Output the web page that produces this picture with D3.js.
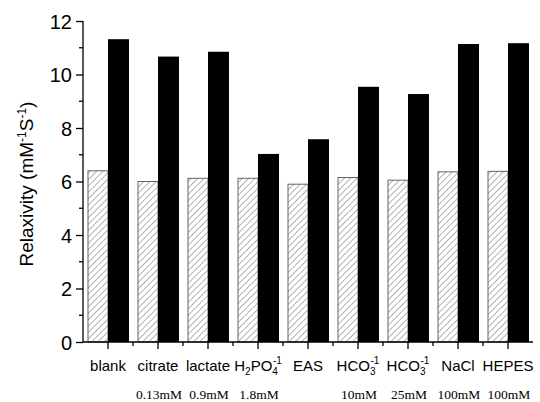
<!DOCTYPE html>
<html>
<head>
<meta charset="utf-8">
<script src="https://cdn.jsdelivr.net/npm/d3@7"></script>
<style>
  body { margin: 0; background: #fff; }
  svg text { font-family: "Liberation Sans", Arial, sans-serif; }
</style>
</head>
<body>
<div id="chart"></div>
<script>
// Categories: main label parts, sub/superscripts, concentration
const categories = ["blank", "citrate", "lactate", "H2PO4", "EAS", "HCO3a", "HCO3b", "NaCl", "HEPES"];
const concentrations = ["", "0.13mM", "0.9mM", "1.8mM", "", "10mM", "25mM", "100mM", "100mM"];
const hatchedValues = [6.4, 6.0, 6.12, 6.12, 5.9, 6.15, 6.05, 6.36, 6.38];
const solidValues = [11.32, 10.67, 10.85, 7.03, 7.58, 9.54, 9.27, 11.14, 11.17];
const yTicks = [0, 2, 4, 6, 8, 10, 12];

const width = 540, height = 402;
const svg = d3.select("#chart").append("svg")
  .attr("width", width).attr("height", height);

// Hatch pattern for the first series
const defs = svg.append("defs");
defs.append("pattern")
  .attr("id", "hatch")
  .attr("patternUnits", "userSpaceOnUse")
  .attr("width", 4.5).attr("height", 4.5)
  .attr("patternTransform", "rotate(45)")
  .append("line")
  .attr("x1", 0).attr("y1", 0).attr("x2", 0).attr("y2", 4.5)
  .attr("stroke", "#666").attr("stroke-width", 1);

const x = d3.scaleBand().domain(categories).range([83, 533]);
const y = d3.scaleLinear().domain([0, 12]).range([342, 21]);

// Bars: hatched left of the category centre, solid right of it
const g = svg.append("g");
const center = (d) => x(d) + x.bandwidth() / 2;

g.selectAll(".hatched")
  .data(categories)
  .enter()
  .append("rect")
  .attr("class", "hatched")
  .attr("x", (d) => center(d) - 20)
  .attr("width", 20)
  .attr("y", (d, i) => y(hatchedValues[i]))
  .attr("height", (d, i) => y(0) - y(hatchedValues[i]))
  .attr("fill", "url(#hatch)")
  .attr("stroke", "#555")
  .attr("stroke-width", 0.9);

g.selectAll(".solid")
  .data(categories)
  .enter()
  .append("rect")
  .attr("class", "solid")
  .attr("x", (d) => center(d))
  .attr("width", 21)
  .attr("y", (d, i) => y(solidValues[i]))
  .attr("height", (d, i) => y(0) - y(solidValues[i]))
  .attr("fill", "#000");

// Y axis with minor ticks
const yAxis = svg.append("g").attr("transform", "translate(83,0)");
yAxis.call(d3.axisLeft(y).tickValues(yTicks).tickSize(7).tickPadding(4))
  .call((s) => s.select(".domain").attr("stroke-width", 1.3).attr("d", `M0,${y(12)}V${y(0)}`));
yAxis.selectAll(".tick line").attr("stroke-width", 1.3);
yAxis.selectAll(".tick text")
  .attr("font-size", 20)
  .attr("font-family", "Liberation Sans, Arial, sans-serif")
  .attr("dy", "0.36em");
yAxis.selectAll(".minor")
  .data(d3.range(1, 12, 2))
  .enter()
  .append("line")
  .attr("class", "minor")
  .attr("x1", 0).attr("x2", -4)
  .attr("y1", (d) => y(d)).attr("y2", (d) => y(d))
  .attr("stroke", "#000").attr("stroke-width", 1.3);

// X axis: major ticks at centres, minor ticks between
const xAxis = svg.append("g").attr("transform", `translate(0,${y(0)})`);
xAxis.append("line")
  .attr("x1", 83).attr("x2", 533)
  .attr("stroke", "#000").attr("stroke-width", 1.3);
xAxis.selectAll(".major")
  .data(categories)
  .enter()
  .append("line")
  .attr("x1", (d) => center(d)).attr("x2", (d) => center(d))
  .attr("y1", 0).attr("y2", 7)
  .attr("stroke", "#000").attr("stroke-width", 1.3);
xAxis.selectAll(".minorx")
  .data(categories.slice(0, -1))
  .enter()
  .append("line")
  .attr("x1", (d) => x(d) + x.step()).attr("x2", (d) => x(d) + x.step())
  .attr("y1", 0).attr("y2", 4)
  .attr("stroke", "#000").attr("stroke-width", 1.3);

// Category labels (with chemical sub/superscripts)
const labelParts = {
  blank: [["blank"]],
  citrate: [["citrate"]],
  lactate: [["lactate"]],
  H2PO4: [["H"], ["2", "sub"], ["PO"], ["4", "sub"], ["-1", "sup"]],
  EAS: [["EAS"]],
  HCO3a: [["HCO"], ["3", "sub"], ["-1", "sup"]],
  HCO3b: [["HCO"], ["3", "sub"], ["-1", "sup"]],
  NaCl: [["NaCl"]],
  HEPES: [["HEPES"]],
};

categories.forEach((c) => {
  const t = svg.append("text")
    .attr("x", center(c))
    .attr("y", 371)
    .attr("text-anchor", "middle")
    .attr("font-size", 15);
  const parts = labelParts[c];
  parts.forEach((p, i) => {
    const ts = t.append("tspan").text(p[0]);
    if (p[1] === "sub") {
      ts.attr("font-size", 10).attr("dy", 4);
    } else if (p[1] === "sup") {
      // stack superscript above the preceding subscript
      ts.attr("font-size", 10).attr("dy", -11).attr("dx", -5);
    } else if (i > 0 && parts[i - 1][1] === "sub") {
      ts.attr("dy", -4);
    }
  });
});

// Concentration labels
svg.selectAll(".conc")
  .data(categories)
  .enter()
  .append("text")
  .attr("class", "conc")
  .attr("x", (d) => center(d) + 1)
  .attr("y", 399)
  .attr("text-anchor", "middle")
  .attr("font-size", 13.5)
  .style("font-family", "Liberation Serif, Times New Roman, serif")
  .text((d, i) => concentrations[i]);

// Y axis title
const yTitle = svg.append("text")
  .attr("transform", "translate(33,184) rotate(-90)")
  .attr("text-anchor", "middle")
  .attr("font-size", 19);
yTitle.append("tspan").text("Relaxivity (mM");
yTitle.append("tspan").text("-1").attr("font-size", 12).attr("dy", -7);
yTitle.append("tspan").text("S").attr("dy", 7);
yTitle.append("tspan").text("-1").attr("font-size", 12).attr("dy", -7);
yTitle.append("tspan").text(")").attr("dy", 7);
</script>
</body>
</html>
